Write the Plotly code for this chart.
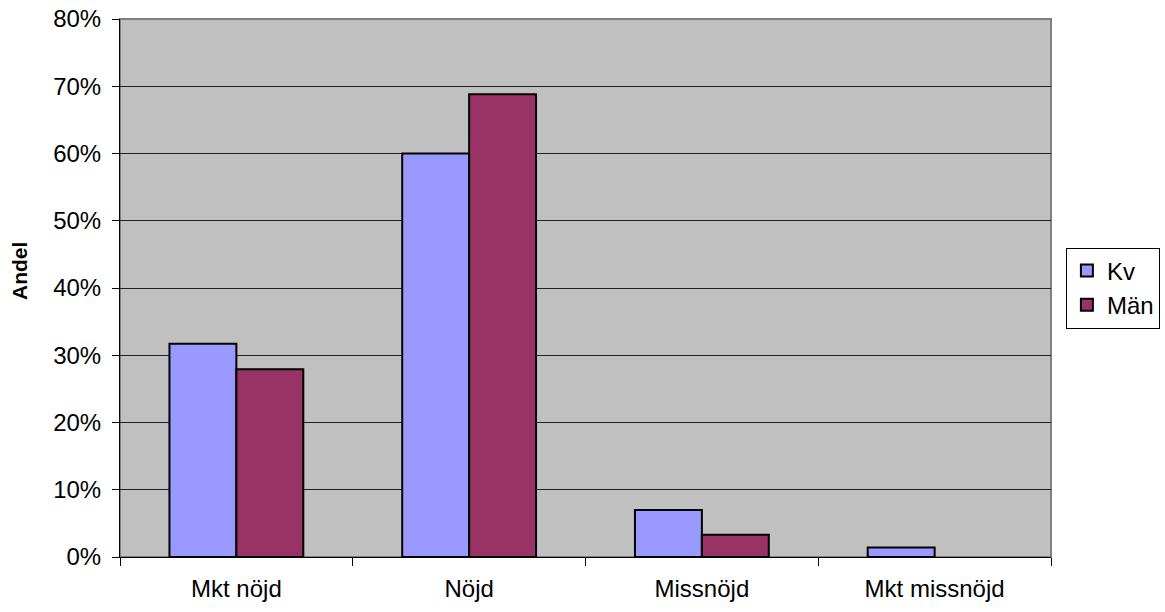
import plotly.graph_objects as go

categories = ["Mkt nöjd", "Nöjd", "Missnöjd", "Mkt missnöjd"]
kv_values = [0.317, 0.600, 0.070, 0.014]
man_values = [0.279, 0.688, 0.033, 0.0]
series_names = ["Kv", "Män"]
y_ticks = [0, 0.1, 0.2, 0.3, 0.4, 0.5, 0.6, 0.7, 0.8]
y_ticklabels = ["0%", "10%", "20%", "30%", "40%", "50%", "60%", "70%", "80%"]
y_title = "Andel"

fig = go.Figure()
fig.add_trace(go.Bar(x=categories, y=kv_values, name=series_names[0],
                     marker=dict(color="#9999FF", line=dict(color="black", width=2))))
fig.add_trace(go.Bar(x=categories, y=man_values, name=series_names[1],
                     marker=dict(color="#993366",
                                 line=dict(color="black", width=[2, 2, 2, 0]))))

fig.update_layout(
    width=1165, height=612,
    margin=dict(l=120, r=114, t=19, b=55, autoexpand=False),
    paper_bgcolor="white", plot_bgcolor="#C0C0C0",
    barmode="group", bargap=0.425, bargroupgap=0,
    font=dict(family="Liberation Sans, Arial", size=24, color="black"),
    legend=dict(x=1.016, y=0.5, xanchor="left", yanchor="middle",
                bordercolor="black", borderwidth=1, bgcolor="white",
                font=dict(size=24), tracegroupgap=2, itemwidth=30),
    showlegend=True,
)
fig.update_xaxes(
    showgrid=False, ticks="outside", tickson="boundaries", ticklen=8,
    tickcolor="black", showline=True, linecolor="black", linewidth=1,
    tickfont=dict(size=24), automargin=False, ticklabelstandoff=10,
)
fig.update_yaxes(
    range=[0, 0.8], tickvals=y_ticks, ticktext=y_ticklabels,
    showgrid=True, gridcolor="#222222", gridwidth=1,
    ticks="outside", ticklen=7, tickcolor="black",
    showline=True, linecolor="black", linewidth=1,
    tickfont=dict(size=24), zeroline=False, automargin=False,
    ticklabelstandoff=6,
)
fig.add_annotation(text="<b>%s</b>" % y_title, xref="paper", yref="paper",
                   x=-0.1074, y=0.5316, textangle=-90, showarrow=False,
                   font=dict(size=21), xanchor="center", yanchor="middle")
fig.add_shape(type="rect", xref="paper", yref="paper", x0=0, x1=1, y0=0, y1=1,
              line=dict(color="#808080", width=2), layer="below")
fig.write_html("out.html", config={"displayModeBar": False},
               post_script="document.body.style.margin='0';document.body.style.overflow='hidden';")
